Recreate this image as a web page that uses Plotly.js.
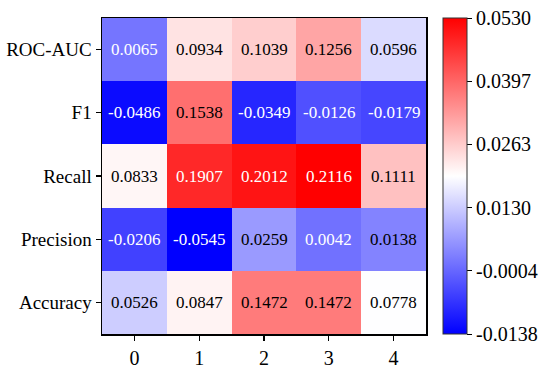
<!DOCTYPE html>
<html>
<head>
<meta charset="utf-8">
<script src="https://cdn.plot.ly/plotly-3.0.1.min.js"></script>
<style>html,body{margin:0;padding:0;background:#fff;}#chart{width:550px;height:369px;}</style>
</head>
<body>
<div id="chart"></div>
<script>
const xLabels = ['0', '1', '2', '3', '4'];
const metrics = ['ROC-AUC', 'F1', 'Recall', 'Precision', 'Accuracy'];
const rocAuc    = [0.0065, 0.0934, 0.1039, 0.1256, 0.0596];
const f1        = [-0.0486, 0.1538, -0.0349, -0.0126, -0.0179];
const recall    = [0.0833, 0.1907, 0.2012, 0.2116, 0.1111];
const precision = [-0.0206, -0.0545, 0.0259, 0.0042, 0.0138];
const accuracy  = [0.0526, 0.0847, 0.1472, 0.1472, 0.0778];
const colorbarLabels = ['-0.0138', '-0.0004', '0.0130', '0.0263', '0.0397', '0.0530'];

const z = [rocAuc, f1, recall, precision, accuracy];
const flat = z.flat();
const zmin = Math.min(...flat), zmax = Math.max(...flat);
const tickvals = colorbarLabels.map((_, i) => zmin + (zmax - zmin) * i / (colorbarLabels.length - 1));

const annotations = [];
z.forEach((row, r) => row.forEach((v, c) => {
  const n = (v - zmin) / (zmax - zmin);
  annotations.push({
    x: xLabels[c], y: metrics[r], xref: 'x', yref: 'y',
    text: v.toFixed(4), showarrow: false,
    font: {family: 'Liberation Serif, serif', size: 17, color: (n < 0.24 || n > 0.85) ? '#ffffff' : '#000000'}
  });
}));

const trace = {
  type: 'heatmap',
  x: xLabels, y: metrics, z: z,
  zmin: zmin, zmax: zmax,
  colorscale: [[0, 'rgb(0,0,255)'], [0.5, 'rgb(255,255,255)'], [1, 'rgb(255,0,0)']],
  xgap: 0, ygap: 0,
  hoverinfo: 'none',
  colorbar: {
    x: 1.0515, xanchor: 'left', xref: 'paper',
    y: 0.5, yanchor: 'middle', len: 1.0, lenmode: 'fraction',
    thickness: 24, thicknessmode: 'pixels',
    outlinewidth: 1, outlinecolor: '#333',
    tickmode: 'array', tickvals: tickvals, ticktext: colorbarLabels,
    ticks: 'outside', ticklen: 5, tickwidth: 1, tickcolor: '#000',
    tickfont: {family: 'Liberation Serif, serif', size: 20, color: '#000'},
    xpad: 0, ypad: 0
  }
};

const layout = {
  width: 550, height: 369,
  margin: {l: 102, r: 118, t: 18, b: 35},
  paper_bgcolor: '#fff', plot_bgcolor: '#fff',
  font: {family: 'Liberation Serif, serif', size: 19, color: '#000'},
  xaxis: {
    type: 'category', showline: true, linecolor: '#000', linewidth: 1.5, mirror: true,
    ticks: 'outside', ticklen: 5, tickwidth: 1.2, tickcolor: '#000',
    tickfont: {family: 'Liberation Serif, serif', size: 20}, showgrid: false, zeroline: false
  },
  yaxis: {
    type: 'category', autorange: 'reversed', showline: true, linecolor: '#000', linewidth: 1.5, mirror: true,
    ticks: 'outside', ticklen: 5, tickwidth: 1.2, tickcolor: '#000',
    tickfont: {family: 'Liberation Serif, serif', size: 19}, showgrid: false, zeroline: false
  },
  annotations: annotations,
  showlegend: false
};

Plotly.newPlot('chart', [trace], layout, {displayModeBar: false, staticPlot: true});
</script>
</body>
</html>
